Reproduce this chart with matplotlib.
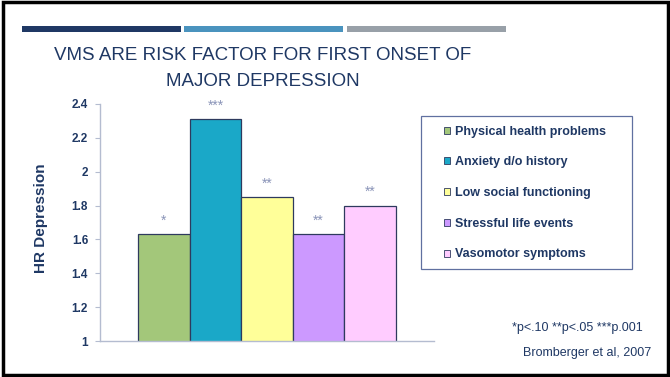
import matplotlib.pyplot as plt
from matplotlib.patches import Rectangle, Patch

plt.rcParams['font.family'] = ['Liberation Sans', 'DejaVu Sans']

categories = ['Physical health problems', 'Anxiety d/o history', 'Low social functioning',
              'Stressful life events', 'Vasomotor symptoms']
hr_values = [1.63, 2.31, 1.85, 1.63, 1.80]
stars = ['*', '***', '**', '**', '**']
bar_colors = ['#A3C77A', '#1AA8C8', '#FFFF99', '#CC99FF', '#FFCCFF']
yticks = [1, 1.2, 1.4, 1.6, 1.8, 2, 2.2, 2.4]

navy = '#1F3864'
W, H = 670, 377

fig = plt.figure(figsize=(6.7, 3.77), dpi=100)

def fx(px):
    return px / W

def fy(py):
    return 1 - py / H

# slide border
fig.patches.append(Rectangle((fx(3), fy(375)), fx(665), 373 / H, transform=fig.transFigure,
                             fill=False, edgecolor='black', linewidth=2.5))

# decorative bars at the top
for x0, x1, c in [(22, 181, '#1F3864'), (184, 343, '#4A93BE'), (347, 506, '#98A0A8')]:
    fig.patches.append(Rectangle((fx(x0), fy(32)), fx(x1 - x0), 6 / H,
                                 transform=fig.transFigure, color=c, linewidth=0))

# title
fig.text(fx(263), fy(56), 'VMS ARE RISK FACTOR FOR FIRST ONSET OF', ha='center', va='center',
         fontsize=13.5, color=navy)
fig.text(fx(263), fy(81), 'MAJOR DEPRESSION', ha='center', va='center',
         fontsize=13.5, color=navy)

ax = fig.add_axes([fx(100), fy(341), fx(334), 237 / H])
x = list(range(len(categories)))
bars = ax.bar(x, hr_values, width=1.0, bottom=0, color=bar_colors,
              edgecolor='#2E3A5E', linewidth=0.9)
for xi, v, s in zip(x, hr_values, stars):
    ax.text(xi, v + 0.08, s, ha='center', va='center', fontsize=10, color='#8A94B8')

ax.set_ylim(1, 2.4)
ax.set_xlim(-1.24, 5.24)
ax.set_yticks(yticks)
ax.set_yticklabels([f'{t:g}' for t in yticks], fontweight='bold')
ax.set_xticks([])
for side in ['top', 'right']:
    ax.spines[side].set_visible(False)
for side in ['left', 'bottom']:
    ax.spines[side].set_color('#B4BCD0')
    ax.spines[side].set_linewidth(1)
ax.tick_params(axis='y', length=3.6, color='#B4BCD0', pad=5, labelsize=8.5,
               labelcolor=navy)

fig.text(fx(41), fy(218), 'HR Depression', rotation=90, ha='center', va='center',
         fontsize=11, fontweight='bold', color=navy)

# legend box
fig.patches.append(Rectangle((fx(421), fy(269)), fx(211), 153 / H, transform=fig.transFigure,
                             fill=False, edgecolor='#6070A0', linewidth=0.9))
handles = [Patch(facecolor=c, edgecolor='#2E3A5E', linewidth=0.6) for c in bar_colors]
fig.legend(handles, categories, loc='center', bbox_to_anchor=(fx(525), fy(193)),
           frameon=False, borderpad=0, handlelength=0.5, handleheight=0.5,
           handletextpad=0.35, labelspacing=1.5,
           prop={'weight': 'bold', 'size': 9}, labelcolor=navy)

fig.text(fx(643), fy(328), '*p<.10 **p<.05 ***p.001', ha='right', va='center',
         fontsize=9, color=navy)
fig.text(fx(651), fy(353), 'Bromberger et al, 2007', ha='right', va='center',
         fontsize=9, color=navy)

fig.savefig('out.png', dpi=100)
